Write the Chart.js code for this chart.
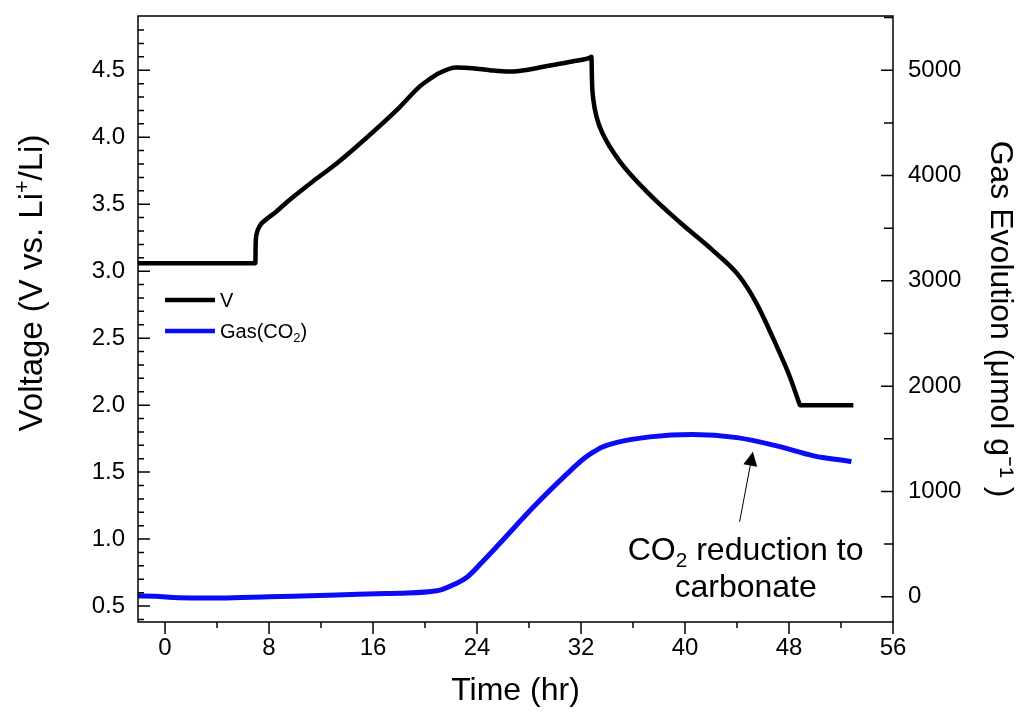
<!DOCTYPE html>
<html>
<head>
<meta charset="utf-8">
<script src="https://cdn.jsdelivr.net/npm/chart.js@4.4.0/dist/chart.umd.min.js"></script>
<style>
  body { margin: 0; background: #fff; }
  #wrap { width: 1020px; height: 722px; }
</style>
</head>
<body>
<div id="wrap"><canvas id="grafico" width="1020" height="722"></canvas></div>
<script>
// valores
var timeV = [-2.1, 6.95, 6.97, 7.05, 7.3, 7.7, 8.5, 9.55, 11.5, 13.15, 15.2, 17.8, 19.6, 20.3, 21.1, 22.4,
             23.65, 25.0, 26.5, 28.0, 29.3, 31.0, 32.7, 32.8, 32.85, 32.95, 33.2, 33.7, 34.98, 37.0, 39.6,
             42.2, 44.2, 45.5, 47.05, 48.07, 48.8, 48.84, 52.95];
var voltage = [3.06, 3.06, 3.20, 3.28, 3.34, 3.38, 3.44, 3.53, 3.68, 3.80, 3.97, 4.20, 4.38, 4.43, 4.48, 4.52,
               4.515, 4.50, 4.49, 4.505, 4.53, 4.56, 4.595, 4.60, 4.40, 4.28, 4.15, 4.02, 3.82, 3.60, 3.365,
               3.15, 2.96, 2.76, 2.44, 2.21, 2.01, 2.00, 2.00];

var timeGas = [-2.1, -0.7, 0.3, 2.0, 4.2, 8.0, 13.2, 17.0, 18.0, 20.9, 21.4, 22.3, 23.2, 24.4, 25.7, 28.3, 30.9,
               32.2, 32.9, 33.6, 34.7, 37.3, 40.6, 44.0, 47.05, 49.9, 52.8];
var gasCO2 = [8, 5, -5, -11, -12, 0, 16, 31, 33, 57, 73, 120, 183, 330, 500, 847, 1164,
              1310, 1370, 1420, 1464, 1518, 1540, 1511, 1433, 1338, 1284];

var timeTicks = [0, 8, 16, 24, 32, 40, 48, 56];
var voltTicks = [0.5, 1.0, 1.5, 2.0, 2.5, 3.0, 3.5, 4.0, 4.5];
var gasTicks = [0, 1000, 2000, 3000, 4000, 5000];

var fonte = "Arial, 'Liberation Sans', sans-serif";
Chart.defaults.font.family = fonte;
Chart.defaults.color = '#000';

function pares(xs, ys) {
    return xs.map(function (x, i) { return {x: x, y: ys[i]}; });
}

function fixTicks(lista) {
    return function (s) { s.ticks = lista.map(function (v) { return {value: v}; }); };
}

// largura/altura fixa do eixo e sem margem extra dos rótulos
function fixSize(prop, val) {
    return function (s) {
        s[prop] = val;
        s.paddingTop = 0; s.paddingBottom = 0;
        s.paddingLeft = 0; s.paddingRight = 0;
    };
}

// texto com subscrito/sobrescrito
function textoSub(c, partes, x, y, tam, alinhar) {
    var w = 0;
    partes.forEach(function (p) {
        c.font = ((p.sub || p.sup) ? tam * 0.65 : tam) + 'px ' + fonte;
        p.w = c.measureText(p.t).width;
        w += p.w;
    });
    var px = alinhar === 'center' ? x - w / 2 : x;
    c.textAlign = 'left';
    c.textBaseline = 'alphabetic';
    partes.forEach(function (p) {
        c.font = ((p.sub || p.sup) ? tam * 0.65 : tam) + 'px ' + fonte;
        var dy = p.sub ? tam * 0.22 : (p.sup ? -tam * 0.38 : 0);
        c.fillText(p.t, px, y + dy);
        px += p.w;
    });
}

var marcas = {
    id: 'marcas',
    afterDatasetsDraw: function (chart) {
        var c = chart.ctx, a = chart.chartArea;
        var sx = chart.scales.x, sy = chart.scales.y, sg = chart.scales.y2;
        var i, p, len;
        c.save();
        c.strokeStyle = '#000';
        c.fillStyle = '#000';
        c.lineWidth = 1.5;
        c.strokeRect(a.left, a.top, a.right - a.left, a.bottom - a.top);

        c.beginPath();
        // eixo esquerdo, marcas para dentro
        for (i = 4; i <= 49; i++) {
            p = sy.getPixelForValue(i / 10);
            if (p < a.top + 1 || p > a.bottom - 1) continue;
            len = (i % 5 === 0) ? 12 : 6;
            c.moveTo(a.left, p); c.lineTo(a.left + len, p);
        }
        // eixo direito
        for (i = 0; i <= 5500; i += 500) {
            p = sg.getPixelForValue(i);
            if (p < a.top + 1 || p > a.bottom - 1) continue;
            len = (i % 1000 === 0) ? 12 : 9;
            c.moveTo(a.right, p); c.lineTo(a.right - len, p);
        }
        // eixo x, marcas para fora
        for (i = 0; i <= 56; i += 4) {
            p = sx.getPixelForValue(i);
            len = (i % 8 === 0) ? 12 : 6;
            c.moveTo(p, a.bottom); c.lineTo(p, a.bottom + len);
        }
        c.stroke();

        // título do eixo esquerdo (um pouco acima do centro, como no original)
        c.save();
        c.translate(42, 283);
        c.rotate(-Math.PI / 2);
        textoSub(c, [{t: 'Voltage (V vs. Li'}, {t: '+', sup: true}, {t: '/Li)'}], 0, 0, 33, 'center');
        c.restore();

        // legenda
        c.lineWidth = 4.5;
        c.beginPath();
        c.moveTo(165, 300); c.lineTo(215, 300);
        c.stroke();
        c.strokeStyle = '#0b0bf5';
        c.beginPath();
        c.moveTo(165, 331); c.lineTo(215, 331);
        c.stroke();
        textoSub(c, [{t: 'V'}], 220, 307, 20, 'left');
        textoSub(c, [{t: 'Gas(CO'}, {t: '2', sub: true}, {t: ')'}], 220, 338, 20, 'left');

        // seta da anotação
        var x1 = sx.getPixelForValue(44.2), y1 = sg.getPixelForValue(712);
        var x2 = sx.getPixelForValue(45.22), y2 = sg.getPixelForValue(1377);
        var ang = Math.atan2(y2 - y1, x2 - x1);
        c.strokeStyle = '#000';
        c.lineWidth = 1;
        c.beginPath();
        c.moveTo(x1, y1);
        c.lineTo(x2 - 13 * Math.cos(ang), y2 - 13 * Math.sin(ang));
        c.stroke();
        c.beginPath();
        c.moveTo(x2, y2);
        c.lineTo(x2 - 14 * Math.cos(ang) + 7 * Math.sin(ang), y2 - 14 * Math.sin(ang) - 7 * Math.cos(ang));
        c.lineTo(x2 - 14 * Math.cos(ang) - 7 * Math.sin(ang), y2 - 14 * Math.sin(ang) + 7 * Math.cos(ang));
        c.closePath();
        c.fill();

        var cx = sx.getPixelForValue(44.66);
        textoSub(c, [{t: 'CO'}, {t: '2', sub: true}, {t: ' reduction to'}], cx, sg.getPixelForValue(348), 32, 'center');
        textoSub(c, [{t: 'carbonate'}], cx, sg.getPixelForValue(0), 32, 'center');
        c.restore();
    }
};

var ctx = document.getElementById('grafico');

var grafico = new Chart(ctx, {
    type: 'scatter',
    data: {
        datasets: [
            {
                label: 'V',
                data: pares(timeV, voltage),
                yAxisID: 'y',
                showLine: true,
                borderColor: '#000',
                backgroundColor: '#000',
                borderWidth: 4.5,
                pointRadius: 0,
                cubicInterpolationMode: 'monotone'
            },
            {
                label: 'Gas(CO2)',
                data: pares(timeGas, gasCO2),
                yAxisID: 'y2',
                showLine: true,
                borderColor: '#0b0bf5',
                backgroundColor: '#0b0bf5',
                borderWidth: 5,
                pointRadius: 0,
                cubicInterpolationMode: 'monotone'
            }
        ]
    },
    options: {
        responsive: false,
        animation: false,
        layout: { padding: { top: 16, left: 0, right: 0, bottom: 0 } },
        plugins: {
            legend: { display: false },
            tooltip: { enabled: false }
        },
        scales: {
            x: {
                type: 'linear',
                position: 'bottom',
                min: -2.08,
                max: 56,
                afterBuildTicks: fixTicks(timeTicks),
                afterFit: fixSize('height', 100),
                grid: { display: false, drawTicks: false },
                border: { display: false },
                ticks: { font: { size: 24 }, padding: 12, maxRotation: 0, autoSkip: false },
                title: { display: true, text: 'Time (hr)', font: { size: 32 }, padding: { top: 0, bottom: 12 } }
            },
            y: {
                type: 'linear',
                position: 'left',
                min: 0.381,
                max: 4.905,
                afterBuildTicks: fixTicks(voltTicks),
                afterFit: fixSize('width', 138),
                grid: { display: false, drawTicks: false },
                border: { display: false },
                ticks: {
                    font: { size: 24 },
                    padding: 13,
                    callback: function (v) { return v.toFixed(1); }
                },
                title: { display: false }
            },
            y2: {
                type: 'linear',
                position: 'right',
                min: -240,
                max: 5515,
                afterBuildTicks: fixTicks(gasTicks),
                afterFit: fixSize('width', 127),
                grid: { display: false, drawTicks: false },
                border: { display: false },
                ticks: {
                    font: { size: 24 },
                    padding: 15,
                    callback: function (v) { return String(v); }
                },
                title: { display: true, text: 'Gas Evolution (\u03BCmol g\u207B\u00B9 )', font: { size: 32 }, padding: { top: 1, bottom: 0 } }
            }
        }
    },
    plugins: [marcas]
});
</script>
</body>
</html>
